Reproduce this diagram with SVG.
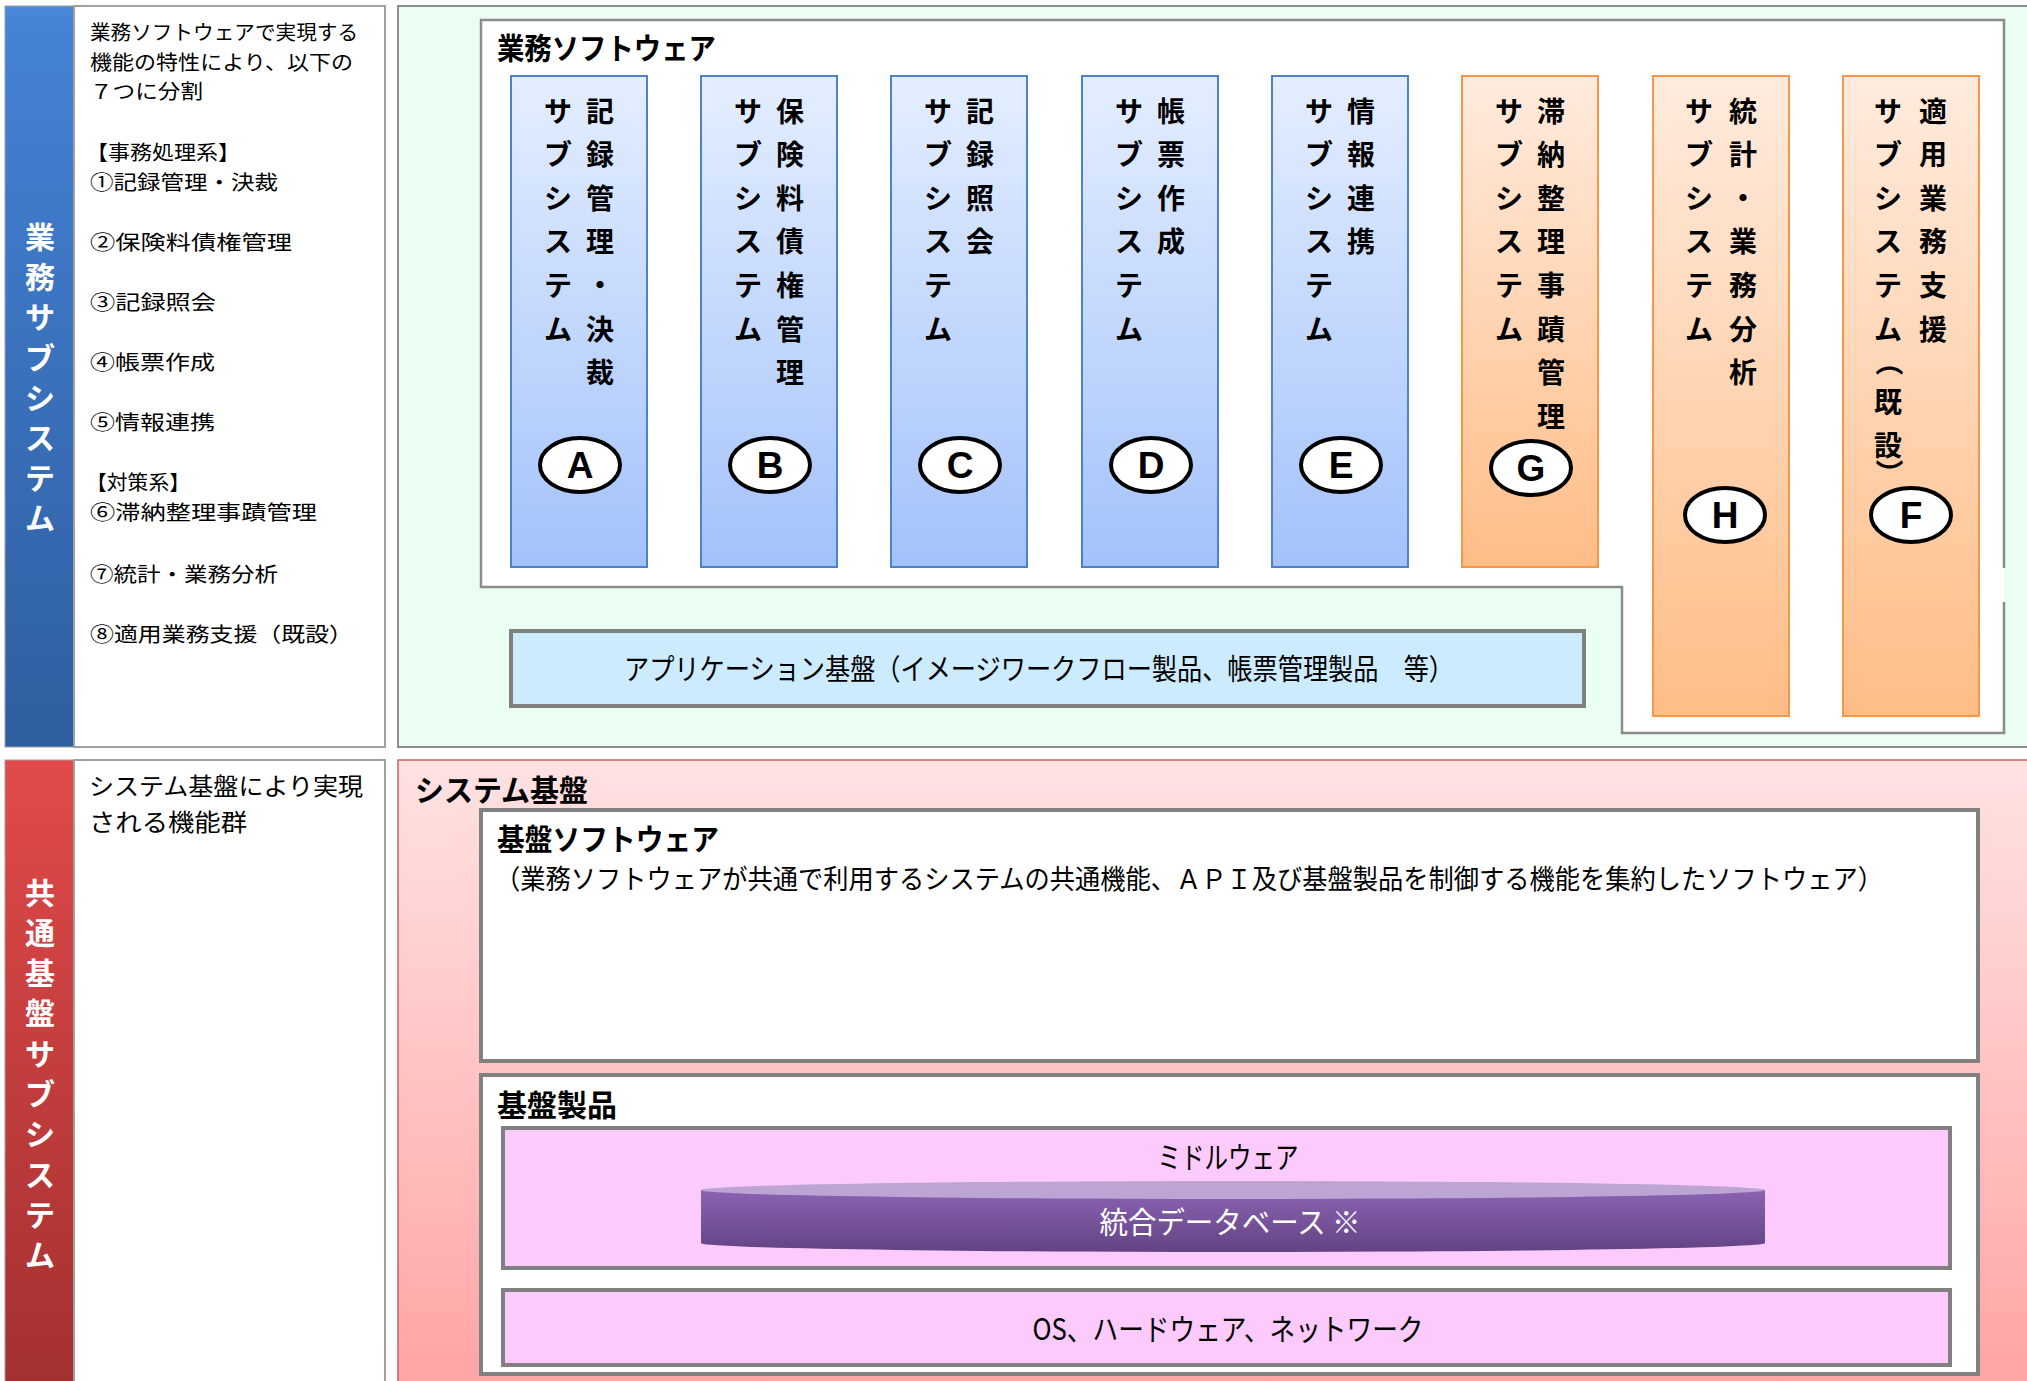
<svg xmlns="http://www.w3.org/2000/svg" width="2027" height="1381" viewBox="0 0 2027 1381">
<defs>
<linearGradient id="gBlueBand" x1="0" y1="0" x2="0" y2="1"><stop offset="0" stop-color="#4B8AD9"/><stop offset="0.02" stop-color="#4483D6"/><stop offset="1" stop-color="#2F5E9F"/></linearGradient>
<linearGradient id="gRedBand" x1="0" y1="0" x2="0" y2="1"><stop offset="0" stop-color="#E24A4A"/><stop offset="1" stop-color="#A33030"/></linearGradient>
<linearGradient id="gBlueCol" x1="0" y1="0" x2="0" y2="1"><stop offset="0" stop-color="#E4EEFF"/><stop offset="1" stop-color="#A3C2FA"/></linearGradient>
<linearGradient id="gOrgCol" x1="0" y1="0" x2="0" y2="1"><stop offset="0" stop-color="#FFEBDE"/><stop offset="1" stop-color="#FFBD86"/></linearGradient>
<linearGradient id="gPink" x1="0" y1="0" x2="0" y2="1"><stop offset="0" stop-color="#FFE2E2"/><stop offset="1" stop-color="#FFA4A4"/></linearGradient>
<linearGradient id="gDb" x1="0" y1="0" x2="0" y2="1"><stop offset="0" stop-color="#8A63B2"/><stop offset="1" stop-color="#634383"/></linearGradient>
</defs>
<style>
text{font-family:"Noto Sans CJK JP","Noto Sans CJK SC",sans-serif;}
.desc{font-size:20.5px;fill:#000;}
.band{font-size:30px;font-weight:bold;fill:#fff;text-anchor:middle;}
.ttl{font-size:30px;font-weight:bold;fill:#000;}
.col{font-size:28px;font-weight:bold;fill:#000;text-anchor:middle;}
.bcol{fill:url(#gBlueCol);stroke:#4F81C8;stroke-width:2;}
.ocol{fill:url(#gOrgCol);stroke:#F79646;stroke-width:2;}
.oval{fill:#fff;stroke:#000;stroke-width:4;}
.let{font-family:"Liberation Sans",Arial,sans-serif;font-size:37px;font-weight:bold;text-anchor:middle;fill:#000;}
.gbox{fill:#fff;stroke:#808080;stroke-width:4;}
.pbox{fill:#FCCAFC;stroke:#808080;stroke-width:4;}
.mid{font-size:30px;fill:#000;text-anchor:middle;}
</style>

<g id="band-gyomu">
<rect x="5" y="6" width="69" height="741" fill="url(#gBlueBand)" stroke="#A0A0A0" stroke-width="1"/>
<text class="band"><tspan x="40" y="248">業</tspan><tspan x="40" y="288">務</tspan><tspan x="40" y="328">サ</tspan><tspan x="40" y="369">ブ</tspan><tspan x="40" y="409">シ</tspan><tspan x="40" y="449">ス</tspan><tspan x="40" y="489">テ</tspan><tspan x="40" y="529">ム</tspan></text>
</g>
<g id="desc-gyomu">
<rect x="74" y="6" width="311" height="741" fill="#fff" stroke="#A0A0A0" stroke-width="2"/>
<text class="desc" x="90" y="40" textLength="268" lengthAdjust="spacingAndGlyphs">業務ソフトウェアで実現する</text>
<text class="desc" x="90" y="70" textLength="263" lengthAdjust="spacingAndGlyphs">機能の特性により、以下の</text>
<text class="desc" x="90" y="99" textLength="113" lengthAdjust="spacingAndGlyphs">７つに分割</text>
<text class="desc" x="86" y="160" textLength="154" lengthAdjust="spacingAndGlyphs">【事務処理系】</text>
<text class="desc" x="90" y="190" textLength="188" lengthAdjust="spacingAndGlyphs">①記録管理・決裁</text>
<text class="desc" x="90" y="250" textLength="202" lengthAdjust="spacingAndGlyphs">②保険料債権管理</text>
<text class="desc" x="90" y="310" textLength="126" lengthAdjust="spacingAndGlyphs">③記録照会</text>
<text class="desc" x="90" y="370" textLength="125" lengthAdjust="spacingAndGlyphs">④帳票作成</text>
<text class="desc" x="90" y="430" textLength="125" lengthAdjust="spacingAndGlyphs">⑤情報連携</text>
<text class="desc" x="86" y="490" textLength="104" lengthAdjust="spacingAndGlyphs">【対策系】</text>
<text class="desc" x="90" y="520" textLength="227" lengthAdjust="spacingAndGlyphs">⑥滞納整理事蹟管理</text>
<text class="desc" x="90" y="582" textLength="188" lengthAdjust="spacingAndGlyphs">⑦統計・業務分析</text>
<text class="desc" x="90" y="642" textLength="263" lengthAdjust="spacingAndGlyphs">⑧適用業務支援（既設）</text>
</g>

<g id="area-gyomu">
<rect x="398" y="6" width="1640" height="741" fill="#EAFEF1" stroke="#8C8C8C" stroke-width="2"/>
</g>
<g id="gyomu-software">
<path d="M481 20 H2004 V733 H1622 V587 H481 Z" fill="#fff"/>
<path d="M2004 568 V20 H481 V587 H1622 V733 H2004 V602" fill="none" stroke="#8C8C8C" stroke-width="2.5"/>
<text class="ttl" x="497" y="59" textLength="219" lengthAdjust="spacingAndGlyphs">業務ソフトウェア</text>
</g>

<g id="col-A">
<rect class="bcol" x="511" y="76" width="136" height="491"/>
<text class="col"><tspan x="558" y="122">サ</tspan><tspan x="558" y="165">ブ</tspan><tspan x="558" y="209">シ</tspan><tspan x="558" y="252">ス</tspan><tspan x="558" y="296">テ</tspan><tspan x="558" y="340">ム</tspan></text>
<text class="col"><tspan x="600" y="122">記</tspan><tspan x="600" y="165">録</tspan><tspan x="600" y="209">管</tspan><tspan x="600" y="252">理</tspan><tspan x="600" y="296">・</tspan><tspan x="600" y="340">決</tspan><tspan x="600" y="383">裁</tspan></text>
<ellipse class="oval" cx="580" cy="465" rx="40" ry="27"/><text class="let" x="580" y="478">A</text>
</g>
<g id="col-B">
<rect class="bcol" x="701" y="76" width="136" height="491"/>
<text class="col"><tspan x="748" y="122">サ</tspan><tspan x="748" y="165">ブ</tspan><tspan x="748" y="209">シ</tspan><tspan x="748" y="252">ス</tspan><tspan x="748" y="296">テ</tspan><tspan x="748" y="340">ム</tspan></text>
<text class="col"><tspan x="790" y="122">保</tspan><tspan x="790" y="165">険</tspan><tspan x="790" y="209">料</tspan><tspan x="790" y="252">債</tspan><tspan x="790" y="296">権</tspan><tspan x="790" y="340">管</tspan><tspan x="790" y="383">理</tspan></text>
<ellipse class="oval" cx="770" cy="465" rx="40" ry="27"/><text class="let" x="770" y="478">B</text>
</g>
<g id="col-C">
<rect class="bcol" x="891" y="76" width="136" height="491"/>
<text class="col"><tspan x="938" y="122">サ</tspan><tspan x="938" y="165">ブ</tspan><tspan x="938" y="209">シ</tspan><tspan x="938" y="252">ス</tspan><tspan x="938" y="296">テ</tspan><tspan x="938" y="340">ム</tspan></text>
<text class="col"><tspan x="980" y="122">記</tspan><tspan x="980" y="165">録</tspan><tspan x="980" y="209">照</tspan><tspan x="980" y="252">会</tspan></text>
<ellipse class="oval" cx="960" cy="465" rx="40" ry="27"/><text class="let" x="960" y="478">C</text>
</g>
<g id="col-D">
<rect class="bcol" x="1082" y="76" width="136" height="491"/>
<text class="col"><tspan x="1129" y="122">サ</tspan><tspan x="1129" y="165">ブ</tspan><tspan x="1129" y="209">シ</tspan><tspan x="1129" y="252">ス</tspan><tspan x="1129" y="296">テ</tspan><tspan x="1129" y="340">ム</tspan></text>
<text class="col"><tspan x="1171" y="122">帳</tspan><tspan x="1171" y="165">票</tspan><tspan x="1171" y="209">作</tspan><tspan x="1171" y="252">成</tspan></text>
<ellipse class="oval" cx="1151" cy="465" rx="40" ry="27"/><text class="let" x="1151" y="478">D</text>
</g>
<g id="col-E">
<rect class="bcol" x="1272" y="76" width="136" height="491"/>
<text class="col"><tspan x="1319" y="122">サ</tspan><tspan x="1319" y="165">ブ</tspan><tspan x="1319" y="209">シ</tspan><tspan x="1319" y="252">ス</tspan><tspan x="1319" y="296">テ</tspan><tspan x="1319" y="340">ム</tspan></text>
<text class="col"><tspan x="1361" y="122">情</tspan><tspan x="1361" y="165">報</tspan><tspan x="1361" y="209">連</tspan><tspan x="1361" y="252">携</tspan></text>
<ellipse class="oval" cx="1341" cy="465" rx="40" ry="27"/><text class="let" x="1341" y="478">E</text>
</g>
<g id="col-G">
<rect class="ocol" x="1462" y="76" width="136" height="491"/>
<text class="col"><tspan x="1509" y="122">サ</tspan><tspan x="1509" y="165">ブ</tspan><tspan x="1509" y="209">シ</tspan><tspan x="1509" y="252">ス</tspan><tspan x="1509" y="296">テ</tspan><tspan x="1509" y="340">ム</tspan></text>
<text class="col"><tspan x="1551" y="122">滞</tspan><tspan x="1551" y="165">納</tspan><tspan x="1551" y="209">整</tspan><tspan x="1551" y="252">理</tspan><tspan x="1551" y="296">事</tspan><tspan x="1551" y="340">蹟</tspan><tspan x="1551" y="383">管</tspan><tspan x="1551" y="427">理</tspan></text>
<ellipse class="oval" cx="1531" cy="468" rx="40" ry="27"/><text class="let" x="1531" y="481">G</text>
</g>
<g id="col-H">
<rect class="ocol" x="1653" y="76" width="136" height="640"/>
<text class="col"><tspan x="1699" y="122">サ</tspan><tspan x="1699" y="165">ブ</tspan><tspan x="1699" y="209">シ</tspan><tspan x="1699" y="252">ス</tspan><tspan x="1699" y="296">テ</tspan><tspan x="1699" y="340">ム</tspan></text>
<text class="col"><tspan x="1743" y="122">統</tspan><tspan x="1743" y="165">計</tspan><tspan x="1743" y="209">・</tspan><tspan x="1743" y="252">業</tspan><tspan x="1743" y="296">務</tspan><tspan x="1743" y="340">分</tspan><tspan x="1743" y="383">析</tspan></text>
<ellipse class="oval" cx="1725" cy="515" rx="40" ry="27"/><text class="let" x="1725" y="528">H</text>
</g>
<g id="col-F">
<rect class="ocol" x="1843" y="76" width="136" height="640"/>
<text class="col"><tspan x="1888" y="122">サ</tspan><tspan x="1888" y="165">ブ</tspan><tspan x="1888" y="209">シ</tspan><tspan x="1888" y="252">ス</tspan><tspan x="1888" y="296">テ</tspan><tspan x="1888" y="340">ム</tspan></text>
<text class="col" transform="rotate(90 1888 362)" x="1888" y="372">（</text>
<text class="col"><tspan x="1888" y="413">既</tspan><tspan x="1888" y="456">設</tspan></text>
<text class="col" transform="rotate(90 1888 473)" x="1888" y="483">）</text>
<text class="col"><tspan x="1933" y="122">適</tspan><tspan x="1933" y="165">用</tspan><tspan x="1933" y="209">業</tspan><tspan x="1933" y="252">務</tspan><tspan x="1933" y="296">支</tspan><tspan x="1933" y="340">援</tspan></text>
<ellipse class="oval" cx="1911" cy="515" rx="40" ry="27"/><text class="let" x="1911" y="528">F</text>
</g>

<g id="app-base">
<rect x="511" y="631" width="1073" height="75" fill="#CCEBFF" stroke="#808080" stroke-width="4"/>
<text x="624" y="680" font-size="29" textLength="830" lengthAdjust="spacingAndGlyphs">アプリケーション基盤（イメージワークフロー製品、帳票管理製品　等）</text>
</g>

<g id="band-kyotsu">
<rect x="5" y="760" width="69" height="630" fill="url(#gRedBand)" stroke="#A0A0A0" stroke-width="1"/>
<text class="band"><tspan x="40" y="904">共</tspan><tspan x="40" y="944">通</tspan><tspan x="40" y="984">基</tspan><tspan x="40" y="1024">盤</tspan><tspan x="40" y="1065">サ</tspan><tspan x="40" y="1105">ブ</tspan><tspan x="40" y="1145">シ</tspan><tspan x="40" y="1186">ス</tspan><tspan x="40" y="1226">テ</tspan><tspan x="40" y="1266">ム</tspan></text>
</g>
<g id="desc-kyotsu">
<rect x="74" y="760" width="311" height="630" fill="#fff" stroke="#A0A0A0" stroke-width="2"/>
<text x="89" y="795" font-size="24" textLength="274" lengthAdjust="spacingAndGlyphs">システム基盤により実現</text>
<text x="89" y="831" font-size="24" textLength="158" lengthAdjust="spacingAndGlyphs">される機能群</text>
</g>

<g id="area-system">
<rect x="398" y="760" width="1640" height="630" fill="url(#gPink)" stroke="#D06060" stroke-width="1.5"/>
<text class="ttl" x="415" y="801" textLength="173" lengthAdjust="spacingAndGlyphs">システム基盤</text>
</g>
<g id="kiban-software">
<rect class="gbox" x="481" y="810" width="1497" height="251"/>
<text class="ttl" x="497" y="850" textLength="222" lengthAdjust="spacingAndGlyphs">基盤ソフトウェア</text>
<text x="495" y="889" font-size="27" textLength="1388" lengthAdjust="spacingAndGlyphs">（業務ソフトウェアが共通で利用するシステムの共通機能、ＡＰＩ及び基盤製品を制御する機能を集約したソフトウェア）</text>
</g>
<g id="kiban-seihin">
<rect class="gbox" x="481" y="1075" width="1497" height="299"/>
<text class="ttl" x="497" y="1116">基盤製品</text>
</g>
<g id="middleware">
<rect class="pbox" x="503" y="1128" width="1447" height="140"/>
<text class="mid" x="1228" y="1168" textLength="141" lengthAdjust="spacingAndGlyphs">ミドルウェア</text>
</g>
<g id="database">
<path d="M701 1190 V1243 A532 9 0 0 0 1765 1243 V1190 Z" fill="url(#gDb)"/>
<ellipse cx="1233" cy="1190" rx="532" ry="9" fill="#BCA4D5"/>
<text x="1230" y="1233" font-size="30" fill="#fff" text-anchor="middle" textLength="261" lengthAdjust="spacingAndGlyphs">統合データベース ※</text>
</g>
<g id="os">
<rect class="pbox" x="503" y="1290" width="1447" height="75"/>
<text class="mid" x="1228" y="1340" textLength="391" lengthAdjust="spacingAndGlyphs">OS、ハードウェア、ネットワーク</text>
</g>
<g id="connectors"/>
</svg>
